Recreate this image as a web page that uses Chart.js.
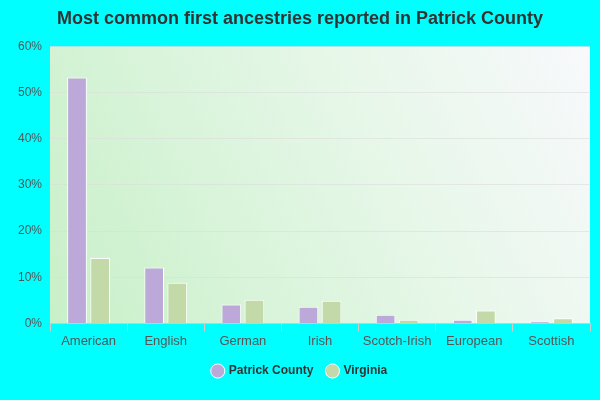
<!DOCTYPE html>
<html><head><meta charset="utf-8">
<script src="https://cdn.jsdelivr.net/npm/chart.js@4"></script>
<style>html,body{margin:0;background:#00ffff}#wrap{width:600px;height:400px}</style>
</head><body><div id="wrap"><canvas id="c"></canvas></div>
<script>
const categories = ['American', 'English', 'German', 'Irish', 'Scotch-Irish', 'European', 'Scottish']
const patrickCounty = [53.3, 12.1, 4.1, 3.6, 1.9, 0.8, 0.4]
const virginia = [14.2, 8.8, 5.1, 4.9, 0.8, 2.8, 1.1]
const yTicks = [0, 10, 20, 30, 40, 50, 60]

// gradient plot background
const bgPlugin = {
  id: 'bg',
  beforeDraw(chart) {
    const { ctx, chartArea: a } = chart
    const g = ctx.createLinearGradient(a.left, a.bottom, a.right, a.top)
    g.addColorStop(0, '#c8f0c8')
    g.addColorStop(0.6, '#e6f7e8')
    g.addColorStop(1, '#f8f9fc')
    ctx.save()
    ctx.fillStyle = g
    ctx.fillRect(a.left, a.top, a.right - a.left, a.bottom - a.top)
    ctx.restore()
  }
}

const font = 'Liberation Sans'

new Chart(document.getElementById('c'), {
  type: 'bar',
  data: {
    labels: categories,
    datasets: [
      { label: 'Patrick County', data: patrickCounty, backgroundColor: '#bda8da', borderColor: '#ffffff', borderWidth: 1, categoryPercentage: 0.6, barPercentage: 0.85 },
      { label: 'Virginia', data: virginia, backgroundColor: '#c4d9a8', borderColor: '#ffffff', borderWidth: 1, categoryPercentage: 0.6, barPercentage: 0.85 }
    ]
  },
  options: {
    responsive: true,
    maintainAspectRatio: false,
    animation: false,
    layout: { padding: { left: 10, right: 10, top: 4, bottom: 13 } },
    plugins: {
      title: { display: true, text: 'Most common first ancestries reported in Patrick County', color: '#333', font: { family: font, size: 18, weight: 'bold' }, padding: { top: 4, bottom: 17 } },
      legend: { position: 'bottom', labels: { usePointStyle: true, pointStyle: 'circle', boxWidth: 10, boxHeight: 10, padding: 14, color: '#333', font: { family: font, size: 12, weight: 'bold' } } },
      tooltip: { enabled: false }
    },
    scales: {
      x: {
        grid: { display: true, drawOnChartArea: false, tickLength: 8, color: '#cccccc' },
        border: { color: '#cccccc' },
        ticks: { color: '#555', padding: 2, font: { family: font, size: 13 } }
      },
      y: {
        min: 0, max: 60,
        afterBuildTicks(axis) { axis.ticks = yTicks.map(v => ({ value: v })) },
        grid: { color: 'rgba(220,220,220,0.6)', drawTicks: false },
        border: { display: false },
        ticks: { padding: 8, color: '#555', font: { family: font, size: 12 }, callback: v => v + '%' }
      }
    }
  },
  plugins: [bgPlugin]
})
</script></body></html>
